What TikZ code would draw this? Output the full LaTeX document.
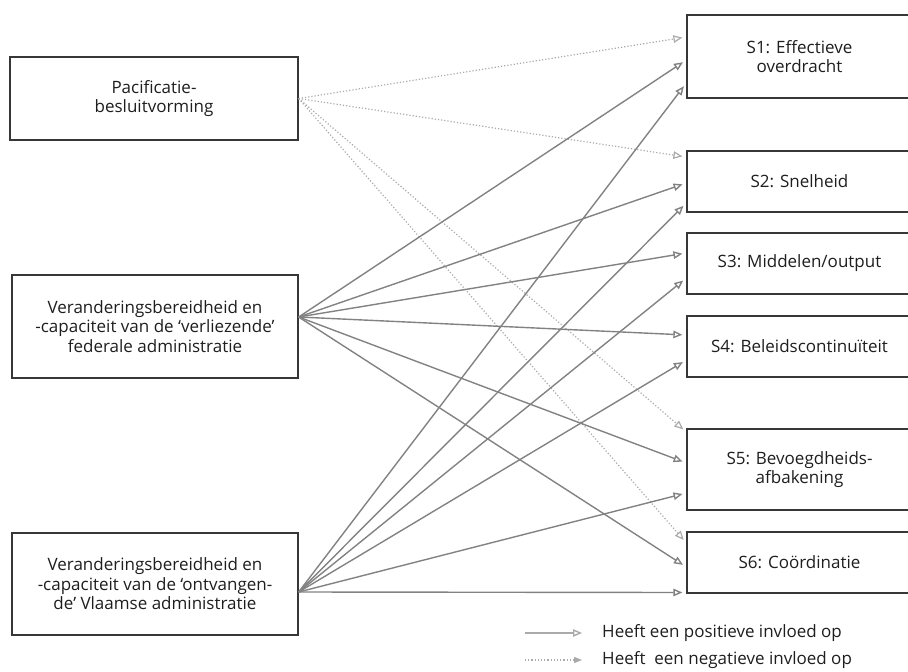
\documentclass[tikz,border=0pt]{standalone}
\usepackage{fontspec}
\setmainfont{Open Sans}
\usetikzlibrary{arrows.meta}

\definecolor{boxline}{RGB}{55,55,55}
\definecolor{txtgray}{RGB}{30,30,30}
\definecolor{posgray}{RGB}{130,130,130}
\definecolor{neggray}{RGB}{170,170,170}

\tikzset{
  factor/.style={draw=boxline, line width=1.3pt, inner sep=0pt, align=center, text=txtgray, font=\fontsize{17}{19.5}\selectfont},
  posarrow/.style={draw=posgray, line width=1.4pt, -{Triangle[open,length=9pt,width=7.5pt]}, shorten >=4pt},
  negarrow/.style={draw=neggray, line width=1.2pt, dotted, -{Triangle[open,length=9pt,width=7.5pt]}, shorten >=4pt},
  legtext/.style={anchor=west, inner sep=0pt, text=txtgray, font=\fontsize{17}{19}\selectfont}
}

\begin{document}
\begin{tikzpicture}[x=1pt,y=-1pt]
\useasboundingbox (0,0) rectangle (908,672);

\node[factor, minimum width=288pt, minimum height=83pt] (pacif) at (154,98.5) {Pacificatie-\\besluitvorming};

\node[factor, minimum width=286pt, minimum height=103pt] (fed) at (155,326.5) {Veranderingsbereidheid en\\-capaciteit van de ‘verliezende’\\federale administratie};

\node[factor, minimum width=286pt, minimum height=102pt] (vla) at (155,584) {Veranderingsbereidheid en\\-capaciteit van de ‘ontvangen-\\de’ Vlaamse administratie};

\node[factor, minimum width=225pt, minimum height=83pt] (s1) at (799.5,56.5) {S1: Effectieve\\overdracht};

\node[factor, minimum width=225pt, minimum height=61pt] (s2) at (799.5,181.5) {S2: Snelheid};

\node[factor, minimum width=225pt, minimum height=61pt] (s3) at (799.5,263.5) {S3: Middelen/output};

\node[factor, minimum width=225pt, minimum height=61pt] (s4) at (799.5,346.5) {S4: Beleidscontinuïteit};

\node[factor, minimum width=225pt, minimum height=81pt] (s5) at (799.5,469.5) {S5: Bevoegdheids-\\afbakening};

\node[factor, minimum width=225pt, minimum height=61pt] (s6) at (799.5,562.5) {S6: Coördinatie};

\coordinate (fedout) at ([yshift=9.5pt]fed.east);
\coordinate (vlaout) at ([yshift=-8pt]vla.east);

\draw[negarrow] (pacif.east) -- ([yshift=19.5pt]s1.west);
\draw[negarrow] (pacif.east) -- ([yshift=24.5pt]s2.west);
\draw[negarrow] (pacif.east) -- ([yshift=37.5pt]s5.west);
\draw[negarrow] (pacif.east) -- ([yshift=19.5pt]s6.west);

\draw[posarrow] (fedout) -- ([yshift=-3.5pt]s1.west);
\draw[posarrow] (fedout) -- ([yshift=-1.5pt]s2.west);
\draw[posarrow] (fedout) -- ([yshift=10.5pt]s3.west);
\draw[posarrow] (fedout) -- ([yshift=11.5pt]s4.west);
\draw[posarrow] (fedout) -- ([yshift=6.5pt]s5.west);
\draw[posarrow] (fedout) -- ([yshift=-4.5pt]s6.west);

\draw[posarrow] (vlaout) -- ([yshift=-26.5pt]s1.west);
\draw[posarrow] (vlaout) -- ([yshift=-21.5pt]s2.west);
\draw[posarrow] (vlaout) -- ([yshift=-14.5pt]s3.west);
\draw[posarrow] (vlaout) -- ([yshift=-13.5pt]s4.west);
\draw[posarrow] (vlaout) -- ([yshift=-23.5pt]s5.west);
\draw[posarrow] (vlaout) -- ([yshift=-30pt]s6.west);

\coordinate (posa) at (525,633);
\coordinate (posb) at (586,633);
\coordinate (nega) at (525,660);
\coordinate (negb) at (586,660);
\draw[posarrow, draw=neggray] (posa) -- (posb);
\draw[negarrow, -{Triangle[length=8pt,width=6pt]}] (nega) -- (negb);
\node[legtext] (poslab) at (602,633) {Heeft een positieve invloed op};
\node[legtext] (neglab) at (602,660) {Heeft\ \ een negatieve invloed op};
\end{tikzpicture}
\end{document}
